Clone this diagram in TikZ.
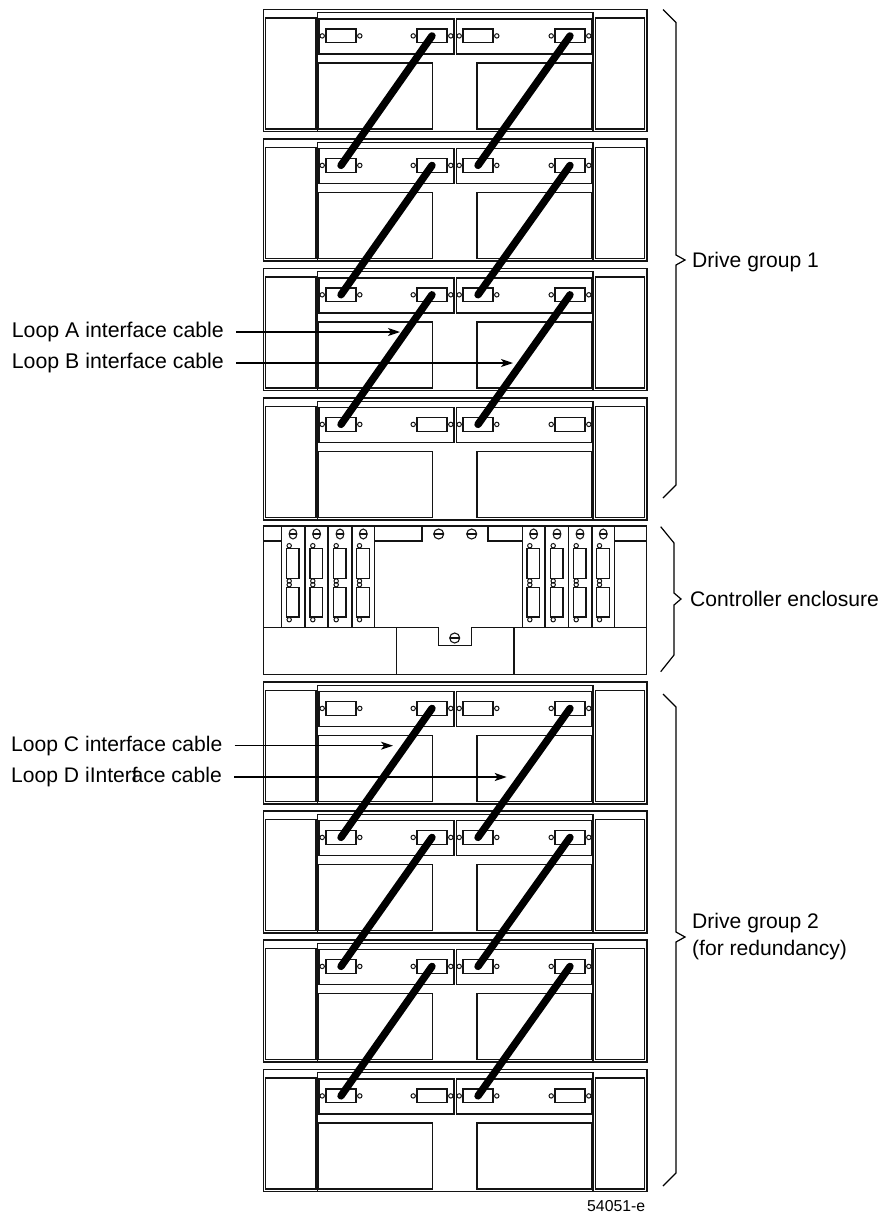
\documentclass[tikz,border=0pt]{standalone}
\usepackage{fontspec}
\setmainfont{Liberation Sans}
\usepackage{tikz}
\usetikzlibrary{positioning,arrows.meta,shapes.geometric}
\definecolor{frameline}{RGB}{20,20,20}
\newcommand{\labelfont}{\fontsize{21.1}{27}\selectfont}
\newcommand{\widefont}{\fontsize{21.3}{27}\selectfont}
\newcommand{\tagfont}{\fontsize{15.8}{19}\selectfont}
\tikzset{
  frame/.style={draw=frameline, line width=1.3pt},
  port/.style={draw=frameline, line width=1.2pt, rectangle, inner sep=0pt, minimum width=30pt, minimum height=13.7pt},
  pin/.style={draw=frameline, line width=1pt, circle, inner sep=0pt, minimum size=4.4pt},
  slot/.style={draw=frameline, line width=1.2pt, rectangle, inner sep=0pt, minimum width=12.7pt, minimum height=29.7pt},
  thumb/.style={draw=frameline, line width=1.1pt, ellipse, inner sep=0pt, minimum width=7.8pt, minimum height=10pt,
    path picture={\draw[line width=1.1pt] (path picture bounding box.west) -- (path picture bounding box.east);}},
  cable/.style={line width=7.4pt, line cap=round},
  leader/.style={line width=1.2pt, -{Stealth[length=12pt,width=8pt,inset=3pt]}},
  brace/.style={line width=1.2pt},
  looplabel/.style={anchor=west, inner sep=0pt, text height=15.6pt, text depth=4pt, font=\labelfont},
  grouplabel/.style={anchor=base west, inner sep=0pt, font=\labelfont}
}

\begin{document}
\begin{tikzpicture}[x=1pt,y=-1pt]
  \useasboundingbox (0,0) rectangle (884,1213);

  % drive shelves
  \foreach \n/\y in {1/9.5,2/139,3/268.4,4/398,5/682,6/811,7/940,8/1069.5} {
    \begin{scope}[yshift=-\y pt]
      \draw[frame] (263.5,0) rectangle (647,122);
      \draw[frame] (265.7,8.5) rectangle (316,119.5);
      \draw[frame] (595.3,8.5) rectangle (644.7,119.5);
      \draw[frame] (317.5,122) -- (317.5,3.2) -- (593,3.2) -- (593,122);
      \draw[frame] (319,9.5) rectangle (454,44.5);
      \draw[frame] (456.7,9.5) rectangle (591.7,44.5);
      \draw[frame] (318.3,53.5) rectangle (432.7,119.5);
      \draw[frame] (477,53.5) rectangle (592,119.5);
      \foreach \p/\x in {a/341,b/432,c/478,d/570} {
        \node[port] (port-\n\p) at (\x,26.4) {};
        \node[pin, left=0.5pt of port-\n\p] (pinl-\n\p) {};
        \node[pin, right=0.5pt of port-\n\p] (pinr-\n\p) {};
      }
    \end{scope}
  }

  % cables
  \foreach \m/\n in {2/1,3/2,4/3,6/5,7/6,8/7} {
    \draw[cable] (port-\n b.center) -- (port-\m a.center);
    \draw[cable] (port-\n d.center) -- (port-\m c.center);
  }

  % controller enclosure
  \draw[frame] (263.3,526) rectangle (646.7,674.3);
  \draw[frame] (263.3,627.3) -- (438.7,627.3) -- (438.7,645.7) -- (471.7,645.7) -- (471.7,627.3) -- (646.7,627.3);
  \draw[frame] (396.3,627.3) -- (396.3,674.3);
  \draw[frame] (514,627.3) -- (514,674.3);
  \draw[frame] (263.3,541) -- (281.7,541);
  \draw[frame] (374.7,541) -- (422,541) -- (422,526);
  \draw[frame] (488,526) -- (488,541) -- (522.3,541);
  \draw[frame] (614,541) -- (646.7,541);
  \foreach \m/\x in {a/281.7,b/305.3,c/328.7,d/352,e/522.3,f/545.7,g/568.7,h/592} {
    \draw[frame] (\x,526) rectangle ++(22.5,101.3);
    \node[thumb] (thumb-\m) at (\x+11.3,534) {};
    \node[slot] (slotu-\m) at (\x+11,563.5) {};
    \node[slot] (slotd-\m) at (\x+11,602.2) {};
    \node[pin] (pina-\m) at (\x+7.5,545.7) {};
    \node[pin] (pinb-\m) at (\x+7.5,581) {};
    \node[pin] (pinc-\m) at (\x+7.5,584.7) {};
    \node[pin] (pind-\m) at (\x+7.5,619.7) {};
  }
  \node[thumb, minimum width=10pt] (thumb-l) at (438.7,534) {};
  \node[thumb, minimum width=10pt] (thumb-r) at (471.7,534) {};
  \node[thumb, minimum width=10pt] (thumb-b) at (454.7,638) {};

  % loop labels
  \node[looplabel, font=\widefont] (loopA) at (11.7,332) {Loop A interface cable};
  \node[looplabel, font=\widefont] (loopB) at (11.7,363) {Loop B interface cable};
  \node[looplabel] (loopC) at (11,745.7) {Loop C interface cable};
  \node[looplabel] (loopD) at (11,777) {Loop D iInterf\kern-0.3em ace cable};
  \coordinate (tipA) at (400,332);
  \coordinate (tipB) at (513,363);
  \coordinate (tipC) at (393,745.7);
  \coordinate (tipD) at (506.7,777);
  \draw[leader] ([xshift=12pt]loopA.east) -- (tipA);
  \draw[leader] ([xshift=12pt]loopB.east) -- (tipB);
  \draw[leader] ([xshift=12pt]loopC.east) -- (tipC);
  \draw[leader] ([xshift=12pt]loopD.east) -- (tipD);

  % braces
  \draw[brace] (663,9.5) -- (676,22.5) -- (676,255) -- (685,260) -- (676,265) -- (676,485) -- (663,498);
  \draw[brace] (660.7,526.7) -- (674,543) -- (674,593) -- (681,599) -- (674,605) -- (674,655) -- (660.7,671.7);
  \draw[brace] (663,694) -- (676,707) -- (676,932) -- (685,937) -- (676,942) -- (676,1173) -- (663,1186);

  % group labels
  \node[grouplabel] (driveone) at (692,267.7) {Drive group 1};
  \node[grouplabel] (ctrl) at (690,606.5) {Controller enclosure};
  \node[grouplabel] (drivetwo) at (692,928) {Drive group 2};
  \node[grouplabel] (redund) at (692,955) {(for redundancy)};
  \node[anchor=base west, inner sep=0pt, font=\tagfont] (figtag) at (587,1211) {54051-e};
\end{tikzpicture}
\end{document}
